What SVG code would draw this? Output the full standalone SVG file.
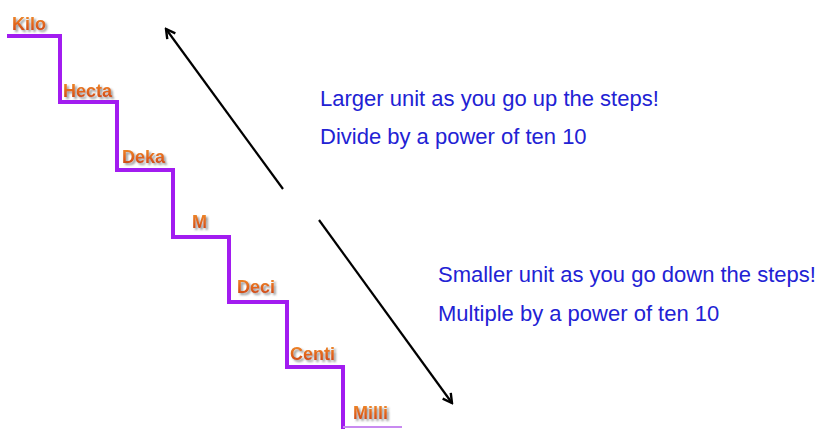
<svg xmlns="http://www.w3.org/2000/svg" width="817" height="429" viewBox="0 0 817 429">
  <defs>
    <linearGradient id="og" x1="0" y1="0" x2="0" y2="1">
      <stop offset="0" stop-color="#f0902e"/>
      <stop offset="0.55" stop-color="#e0621a"/>
      <stop offset="1" stop-color="#c03c18"/>
    </linearGradient>
    <filter id="sh" x="-20%" y="-30%" width="150%" height="170%">
      <feGaussianBlur in="SourceAlpha" stdDeviation="1"/>
      <feOffset dx="2" dy="2" result="b"/>
      <feFlood flood-color="#555" flood-opacity="0.6"/>
      <feComposite in2="b" operator="in"/>
      <feMerge><feMergeNode/><feMergeNode in="SourceGraphic"/></feMerge>
    </filter>
    <marker id="ah" markerWidth="14" markerHeight="14" refX="12" refY="7" orient="auto" markerUnits="userSpaceOnUse">
      <path d="M3,2 L12,7 L3,12" fill="none" stroke="#000" stroke-width="2.4"/>
    </marker>
    <style>
      .lbl{font-family:"Liberation Sans",Arial,sans-serif;font-weight:bold;font-size:18px;fill:url(#og);filter:url(#sh)}
      .txt{font-family:"Liberation Sans",Arial,sans-serif;font-size:22px;fill:#2222d4}
      .arr{stroke:#000;stroke-width:2.2;fill:none;marker-end:url(#ah)}
      .stair{stroke:#a21cf0;stroke-width:4;fill:none}
    </style>
  </defs>
  <rect width="817" height="429" fill="#fff"/>
  <g id="stairs">
    <path class="stair" d="M7,36 H60 V102 H117 V170 H173 V237 H229 V302 H287 V367 H343 V429"/>
    <path d="M343,427 H402" stroke="#c88af0" stroke-width="2" fill="none"/>
  </g>
  <g id="kilo"><text class="lbl" x="12" y="30">Kilo</text></g>
  <g id="hecta"><text class="lbl" x="63" y="97">Hecta</text></g>
  <g id="deka"><text class="lbl" x="122" y="163">Deka</text></g>
  <g id="m"><text class="lbl" x="192" y="228">M</text></g>
  <g id="deci"><text class="lbl" x="237" y="293">Deci</text></g>
  <g id="centi"><text class="lbl" x="290" y="360">Centi</text></g>
  <g id="milli"><text class="lbl" x="353" y="419">Milli</text></g>
  <g id="connectors">
    <line class="arr" x1="283" y1="189" x2="166" y2="29"/>
    <line class="arr" x1="319" y1="220" x2="452" y2="403"/>
  </g>
  <g id="up-text">
    <text class="txt" x="320" y="106">Larger unit as you go up the steps!</text>
    <text class="txt" x="320" y="144">Divide by a power of ten 10</text>
  </g>
  <g id="down-text">
    <text class="txt" x="438" y="282">Smaller unit as you go down the steps!</text>
    <text class="txt" x="438" y="321">Multiple by a power of ten 10</text>
  </g>
</svg>
